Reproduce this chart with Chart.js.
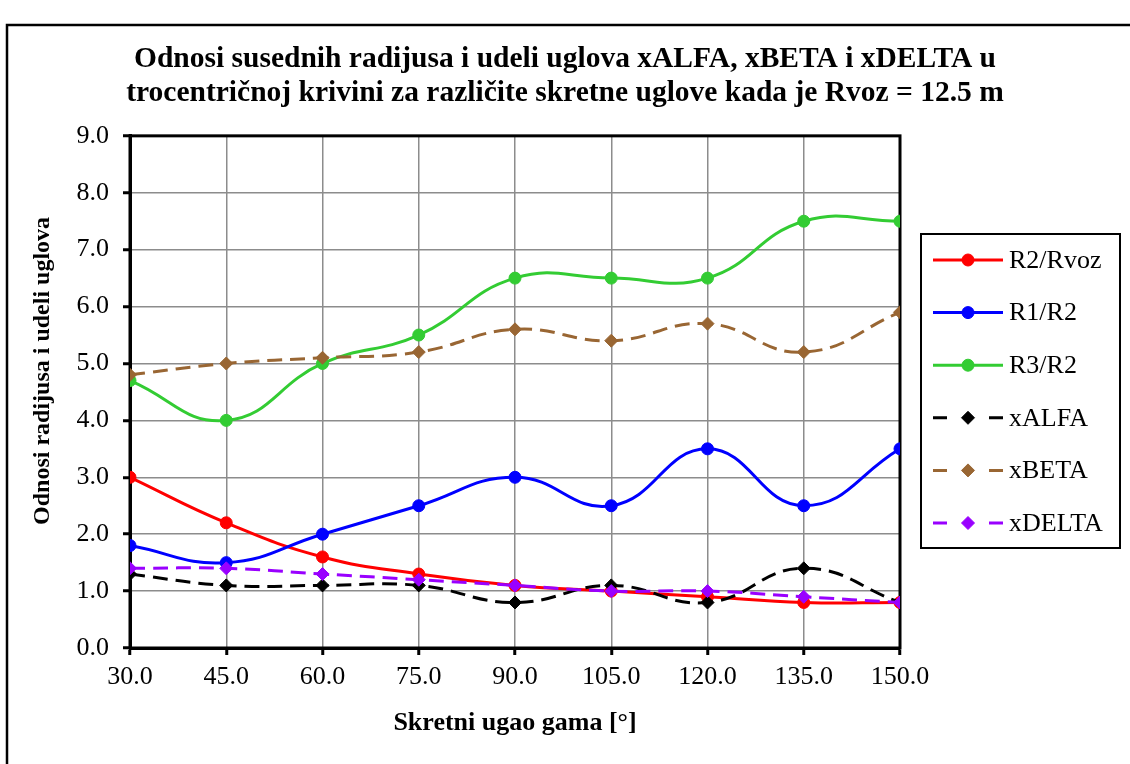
<!DOCTYPE html>
<html><head><meta charset="utf-8">
<script src="https://cdn.jsdelivr.net/npm/chart.js@4"></script>
<style>html,body{margin:0;padding:0;background:#fff}#wrap{width:1130px;height:764px}</style>
</head><body><div id="wrap"><canvas id="c" width="1130" height="764"></canvas></div>
<script>
const categories = [30, 45, 60, 75, 90, 105, 120, 135, 150];
const seriesNames = ['R2/Rvoz', 'R1/R2', 'R3/R2', 'xALFA', 'xBETA', 'xDELTA'];
const r2Rvoz = [3.0, 2.2, 1.6, 1.3, 1.1, 1.0, 0.9, 0.8, 0.8];
const r1R2   = [1.8, 1.5, 2.0, 2.5, 3.0, 2.5, 3.5, 2.5, 3.5];
const r3R2   = [4.7, 4.0, 5.0, 5.5, 6.5, 6.5, 6.5, 7.5, 7.5];
const xAlfa  = [1.3, 1.1, 1.1, 1.1, 0.8, 1.1, 0.8, 1.4, 0.8];
const xBeta  = [4.8, 5.0, 5.1, 5.2, 5.6, 5.4, 5.7, 5.2, 5.9];
const xDelta = [1.4, 1.4, 1.3, 1.2, 1.1, 1.0, 1.0, 0.9, 0.8];
const yTickMin = 0, yTickMax = 9, yTickStep = 1;
const xTickStep = 15;
const titleLines = [
  'Odnosi susednih radijusa i udeli uglova xALFA, xBETA i xDELTA u',
  'trocentričnoj krivini za različite skretne uglove kada je Rvoz = 12.5 m'
];
const xTitle = 'Skretni ugao gama [°]';
const yTitle = 'Odnosi radijusa i udeli uglova';

const FONT = '"Liberation Serif", "Times New Roman", serif';
const toXY = arr => arr.map((v, i) => ({x: categories[i], y: v}));

function mk(label, data, color, dashed, order) {
  return {
    label, data: toXY(data),
    borderColor: color, backgroundColor: color,
    pointBackgroundColor: color, pointBorderColor: color,
    borderWidth: 3, borderDash: dashed ? [15, 8] : [],
    pointStyle: dashed ? 'rectRot' : 'circle',
    pointRadius: dashed ? 6.5 : 6, pointBorderWidth: 1,
    tension: 0.45, fill: false, order
  };
}

const framePlugin = {
  id: 'frame',
  beforeDraw(chart) {
    const ctx = chart.ctx;
    ctx.save();
    ctx.fillStyle = '#fff';
    ctx.fillRect(0, 0, chart.width, chart.height);
    ctx.lineWidth = 2.5;
    ctx.strokeStyle = '#000';
    ctx.strokeRect(7, 25, chart.width + 20, chart.height + 20);
    ctx.restore();
  },
  beforeDatasetsDraw(chart) {
    const a = chart.chartArea, ctx = chart.ctx;
    ctx.save();
    ctx.lineWidth = 3;
    ctx.strokeStyle = '#000';
    ctx.strokeRect(a.left, a.top, a.right - a.left, a.bottom - a.top);
    ctx.restore();
  }
};

const legendPlugin = {
  id: 'sideLegend',
  afterDraw(chart) {
    const ctx = chart.ctx;
    const x0 = 921, y0 = 234, w = 199, h = 314;
    ctx.save();
    ctx.fillStyle = '#fff';
    ctx.fillRect(x0, y0, w, h);
    ctx.lineWidth = 2;
    ctx.strokeStyle = '#000';
    ctx.strokeRect(x0, y0, w, h);
    chart.data.datasets.forEach((ds, i) => {
      const y = 260 + i * 52.6;
      ctx.strokeStyle = ds.borderColor;
      ctx.lineWidth = ds.borderWidth;
      ctx.setLineDash([]);
      ctx.beginPath();
      if (ds.borderDash && ds.borderDash.length) {
        ctx.moveTo(933, y); ctx.lineTo(947, y);
        ctx.moveTo(989, y); ctx.lineTo(1003, y);
      } else {
        ctx.moveTo(933, y); ctx.lineTo(1003, y);
      }
      ctx.stroke();
      ctx.fillStyle = ds.pointBackgroundColor;
      ctx.lineWidth = 1;
      Chart.helpers.drawPoint(ctx, {pointStyle: ds.pointStyle, radius: ds.pointRadius, rotation: 0, borderWidth: 1}, 968, y);
      ctx.fillStyle = '#000';
      ctx.font = '26px ' + FONT;
      ctx.textBaseline = 'middle';
      ctx.textAlign = 'left';
      ctx.fillText(ds.label, 1009, y + 1);
    });
    ctx.restore();
  }
};

new Chart(document.getElementById('c'), {
  type: 'line',
  data: {
    datasets: [
      mk(seriesNames[0], r2Rvoz, '#FF0000', false, 6),
      mk(seriesNames[1], r1R2, '#0000FF', false, 5),
      mk(seriesNames[2], r3R2, '#33CC33', false, 4),
      mk(seriesNames[3], xAlfa, '#000000', true, 3),
      mk(seriesNames[4], xBeta, '#996633', true, 2),
      mk(seriesNames[5], xDelta, '#9900FF', true, 1)
    ]
  },
  options: {
    responsive: false,
    animation: false,
    layout: {padding: 0},
    plugins: {
      legend: {display: false},
      tooltip: {enabled: false},
      title: {
        display: true,
        text: titleLines,
        color: '#000',
        font: {family: FONT, size: 29.5, weight: 'bold', lineHeight: 1.15},
        padding: {top: 42, bottom: 26}
      }
    },
    scales: {
      x: {
        type: 'linear', min: categories[0], max: categories[categories.length - 1],
        afterFit: s => { s.height = 116; },
        ticks: {stepSize: xTickStep, callback: v => Number(v).toFixed(1), color: '#000',
                font: {family: FONT, size: 26}, padding: 7, maxRotation: 0, autoSkip: false},
        grid: {color: '#8c8c8c', lineWidth: 1.5, tickColor: '#000', tickLength: 7, tickWidth: 3},
        border: {color: '#000', width: 3},
        title: {display: true, text: xTitle, color: '#000',
                font: {family: FONT, size: 26, weight: 'bold'}, padding: {top: 0, bottom: 25}}
      },
      y: {
        min: yTickMin, max: yTickMax,
        afterFit: s => { s.width = 130; },
        ticks: {stepSize: yTickStep, callback: v => Number(v).toFixed(1), color: '#000',
                font: {family: FONT, size: 26}, padding: 14},
        grid: {color: '#8c8c8c', lineWidth: 1.5, tickColor: '#000', tickLength: 7, tickWidth: 3},
        border: {color: '#000', width: 3},
        title: {display: true, text: '\u00A0'.repeat(7) + yTitle, color: '#000',
                font: {family: FONT, size: 24, weight: 'bold'}, padding: {top: 28, bottom: 0}}
      },
      y2: {
        position: 'right', display: true,
        afterFit: s => { s.width = 230; },
        ticks: {display: false},
        grid: {display: false},
        border: {display: false}
      }
    }
  },
  plugins: [framePlugin, legendPlugin]
});
</script>
</body></html>
